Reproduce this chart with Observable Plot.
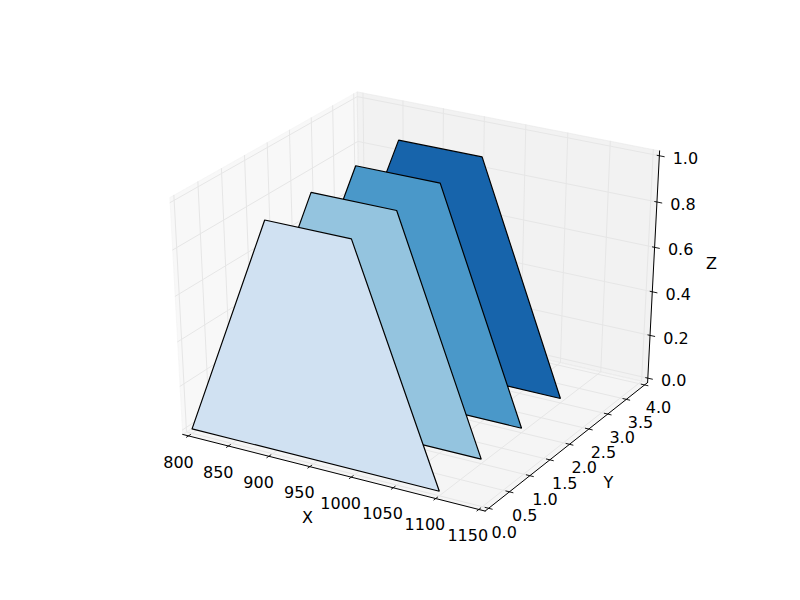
<!DOCTYPE html>
<html><head><meta charset="utf-8">
<style>html,body{margin:0;padding:0;background:#fff}</style>
<script src="https://cdn.jsdelivr.net/npm/d3@7"></script>
<script src="https://cdn.jsdelivr.net/npm/@observablehq/plot@0.6"></script>
</head><body><div id="c"></div><script>
const xTicks=[800,850,900,950,1000,1050,1100,1150];
const yTicks=[0,0.5,1,1.5,2,2.5,3,3.5,4];
const zTicks=[0,0.2,0.4,0.6,0.8,1];
const xLim=[800,1150],yLim=[0,4],zLim=[0,1];
const seriesY=[3,2,1,0];
const seriesColor=["#1764ab","#4a98c9","#94c4df","#d0e1f2"];
const polyX=[800,900,1000,1100];
const polyZ=[0,1,1,0];

// mplot3d camera: elev 30, azim -60, dist 10
const el=30*Math.PI/180,az=-60*Math.PI/180,dist=10;
const E=[0.5+dist*Math.cos(el)*Math.cos(az),0.5+dist*Math.cos(el)*Math.sin(az),0.5+dist*Math.sin(el)];
const sub=(a,b)=>a.map((v,i)=>v-b[i]),dot=(a,b)=>a.reduce((s,v,i)=>s+v*b[i],0);
const cross=(a,b)=>[a[1]*b[2]-a[2]*b[1],a[2]*b[0]-a[0]*b[2],a[0]*b[1]-a[1]*b[0]];
const norm=a=>{const n=Math.hypot(...a);return a.map(v=>v/n)};
const n=norm(sub(E,[0.5,0.5,0.5])),u=norm(cross([0,0,1],n)),v=norm(cross(n,u));
function proj(x,y,z){
  const p=[(x-xLim[0])/(xLim[1]-xLim[0]),(y-yLim[0])/(yLim[1]-yLim[0]),(z-zLim[0])/(zLim[1]-zLim[0])];
  const d=sub(p,E);
  const cx=dot(u,d),cy=dot(v,d),cz=dot(n,d);
  const w=-cz/dist;
  const X=cx/(dist*w),Y=cy/(dist*w);
  return {px:100+620*(X+0.095)/0.185,py:540-480*(Y+0.095)/0.185};
}
const dx=(xLim[1]-xLim[0])/48,dy=(yLim[1]-yLim[0])/48,dz=(zLim[1]-zLim[0])/48;
const x0=xLim[0]-dx,x1=xLim[1]+dx,y0=yLim[0]-dy,y1=yLim[1]+dy,z0=zLim[0]-dz,z1=zLim[1]+dz;
const panes=[
 {c:"#f2f2f2",p:[[x0,y0,z0],[x0,y1,z0],[x0,y1,z1],[x0,y0,z1]]},
 {c:"#e6e6e6",p:[[x0,y1,z0],[x1,y1,z0],[x1,y1,z1],[x0,y1,z1]]},
 {c:"#ececec",p:[[x0,y0,z0],[x1,y0,z0],[x1,y1,z0],[x0,y1,z0]]}
].flatMap((d,i)=>[...d.p,d.p[0]].map(q=>({i,c:d.c,...proj(...q)})));
const grid=[
 ...xTicks.map((t,k)=>[[t,y0,z0],[t,y1,z0],[t,y1,z1]].map(q=>({k:"x"+k,...proj(...q)}))),
 ...yTicks.map((t,k)=>[[x1,t,z0],[x0,t,z0],[x0,t,z1]].map(q=>({k:"y"+k,...proj(...q)}))),
 ...zTicks.map((t,k)=>[[x0,y0,t],[x0,y1,t],[x1,y1,t]].map(q=>({k:"z"+k,...proj(...q)})))
].flat();
const axes=[[[x0,y0,z0],[x1,y0,z0]],[[x1,y0,z0],[x1,y1,z0]],[[x1,y1,z0],[x1,y1,z1]]]
 .flatMap((s,k)=>s.map(q=>({k,...proj(...q)})));
const ry=(y1-y0)/12,rx=(x1-x0)/12;
const ticks=[
 ...xTicks.map(t=>[proj(t,y0+ry*.15,z0),proj(t,y0-ry*.15,z0)]),
 ...yTicks.map(t=>[proj(x1-rx*.15,t,z0),proj(x1+rx*.15,t,z0)]),
 ...zTicks.map(t=>[proj(x1-rx*.1,y1,t),proj(x1+rx*.2,y1,t)])
].map(([a,b])=>({x1:a.px,y1:a.py,x2:b.px,y2:b.py}));
const place=(p,ox,oy)=>({px:p.px+ox,py:p.py+oy});
const labels=[
 ...xTicks.map((t,i)=>({s:String(t),...place(proj(t,y0,z0),-10-i/7,26.5)})),
 ...yTicks.map((t,i)=>({s:t.toFixed(1),...place(proj(x1,t,z0),15.5-1.5*i/8,24.5-1.5*i/8)})),
 ...zTicks.map(t=>({s:t.toFixed(1),...place(proj(x1,y1,t),26,3)})),
];
const axisNames=["X","Y","Z"];
const axisNameX=[307,608,711],axisNameY=[517,482,263];
const polys=seriesY.flatMap((y,i)=>[...polyX,polyX[0]].map((x,j)=>({i,c:seriesColor[i],...proj(x,y,polyZ[j%4])})));

const chart=Plot.plot({width:800,height:600,margin:0,
 style:{fontFamily:"DejaVu Sans",background:"#fff"},
 x:{type:"identity",axis:null},y:{type:"identity",axis:null},
 marks:[
  Plot.line(panes,{x:"px",y:"py",z:"i",fill:"c",fillOpacity:.5,stroke:"c",strokeOpacity:.5,strokeWidth:1}),
  Plot.line(grid,{x:"px",y:"py",z:"k",stroke:"#e6e6e6",strokeWidth:1}),
  Plot.line(axes,{x:"px",y:"py",z:"k",stroke:"#000",strokeWidth:1}),
  Plot.link(ticks,{x1:"x1",y1:"y1",x2:"x2",y2:"y2",stroke:"#000",strokeWidth:0.9}),
  Plot.line(polys,{x:"px",y:"py",z:"i",fill:"c",stroke:"#000",strokeWidth:1.2,strokeLinejoin:"miter"}),
  Plot.text(labels,{x:"px",y:"py",text:"s",fontSize:16,fill:"#000"}),
  Plot.text(axisNames,{x:(d,i)=>axisNameX[i],y:(d,i)=>axisNameY[i],text:d=>d,fontSize:16,fill:"#000"})
 ]});
document.getElementById("c").append(chart);
</script></body></html>
